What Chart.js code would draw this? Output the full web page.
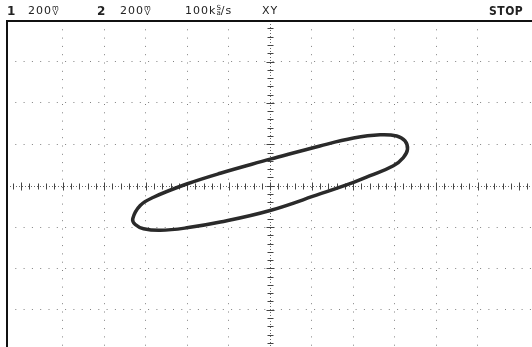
<!DOCTYPE html>
<html>
<head>
<meta charset="utf-8">
<script src="https://cdn.jsdelivr.net/npm/chart.js@4/dist/chart.umd.min.js"></script>
<style>
  html, body { margin: 0; padding: 0; background: #fff; }
  #wrap { position: relative; width: 532px; height: 347px; overflow: hidden; }
  #scope { position: absolute; left: 0; top: 0; }
  .hd { position: absolute; top: 5px; font: 11px "DejaVu Sans", sans-serif; color: #222; white-space: nowrap; line-height: 12px; letter-spacing: 1px; }
  .hd b { font-weight: bold; font-size: 12px; }
  .stk { display: inline-block; font-size: 7px; line-height: 5px; vertical-align: -1px; text-align: center; letter-spacing: 0; }
  .stop { font-family: "Liberation Sans Narrow", "DejaVu Sans Condensed", sans-serif; font-weight: bold; font-size: 12px; letter-spacing: 0.5px; }
</style>
</head>
<body>
<div id="wrap">
  <canvas id="scope" width="532" height="347"></canvas>
  <div class="hd" style="left:7px"><b>1</b></div>
  <div class="hd" style="left:28px">200<span class="stk">m<br>V</span></div>
  <div class="hd" style="left:97px"><b>2</b></div>
  <div class="hd" style="left:120px">200<span class="stk">m<br>V</span></div>
  <div class="hd" style="left:185px">100k<span class="stk">S<br>a</span>/s</div>
  <div class="hd" style="left:262px">XY</div>
  <div class="hd stop" style="left:489px">STOP</div>
</div>
<script>
// XY trace, in divisions (x = CH1, y = CH2)
const traceX = [0, 1.20, 2.01, 2.65, 3.05, 3.25, 3.31, 3.21, 2.97, 2.41, 2.01, 1.20, 0,
                -1.20, -2.01, -2.65, -3.05, -3.25, -3.31, -3.13, -2.81, -2.01, -1.20, 0];
const traceY = [0.64, 0.96, 1.15, 1.23, 1.20, 1.08, 0.88, 0.68, 0.48, 0.24, 0.08, -0.20, -0.60,
                -0.88, -1.02, -1.08, -1.04, -0.94, -0.80, -0.48, -0.28, 0.04, 0.30, 0.64];

// visible screen window in divisions
const xRange = [-6.34, 6.31];
const yRange = [-3.9, 3.98];

const points = traceX.map((x, i) => ({ x: x, y: traceY[i] }));

function gridColor(ctx) {
    const v = ctx.tick ? ctx.tick.value : 0;
    if (v === 0 || Math.abs(v - Math.round(v)) > 1e-6) return 'rgba(0,0,0,0)';
    return '#808080';
}

// centre crosshair with the small 0.2 div marks, plus the frame
const screenDecor = {
    id: 'screenDecor',
    beforeDatasetsDraw(chart) {
        const c = chart.ctx, a = chart.chartArea;
        const xs = chart.scales.x, ys = chart.scales.y;
        const x0 = Math.round(xs.getPixelForValue(0)) + 0.5;
        const y0 = Math.round(ys.getPixelForValue(0)) + 0.5;
        c.save();
        c.strokeStyle = '#666';
        c.lineWidth = 1;
        c.setLineDash([1, 2]);
        c.beginPath();
        c.moveTo(a.left, y0); c.lineTo(a.right, y0);
        c.moveTo(x0, a.top); c.lineTo(x0, a.bottom);
        c.stroke();
        c.setLineDash([]);
        c.strokeStyle = '#444';
        c.beginPath();
        for (let v = Math.ceil(xRange[0] * 5); v <= Math.floor(xRange[1] * 5); v++) {
            const px = Math.round(xs.getPixelForValue(v / 5)) + 0.5;
            const h = v % 5 === 0 ? 4 : 3;
            c.moveTo(px, y0 - h); c.lineTo(px, y0 + h);
        }
        for (let v = Math.ceil(yRange[0] * 5); v <= Math.floor(yRange[1] * 5); v++) {
            const py = Math.round(ys.getPixelForValue(v / 5)) + 0.5;
            const w = v % 5 === 0 ? 4 : 3;
            c.moveTo(x0 - w, py); c.lineTo(x0 + w, py);
        }
        c.stroke();
        // frame: left edge and the line under the header
        c.strokeStyle = '#111';
        c.lineWidth = 2;
        c.beginPath();
        c.moveTo(a.left, a.bottom); c.lineTo(a.left, a.top); c.lineTo(a.right, a.top);
        c.stroke();
        c.restore();
    }
};

new Chart(document.getElementById('scope'), {
    type: 'scatter',
    data: {
        datasets: [{
            data: points,
            showLine: true,
            borderColor: '#2a2a2a',
            borderWidth: 3.5,
            pointRadius: 0,
            tension: 0.4,
            fill: false
        }]
    },
    options: {
        responsive: false,
        animation: false,
        layout: { padding: { left: 7, top: 21, right: 0, bottom: 0 } },
        plugins: { legend: { display: false }, tooltip: { enabled: false } },
        scales: {
            x: {
                type: 'linear', min: xRange[0], max: xRange[1],
                ticks: { display: false, stepSize: 1 },
                border: { display: false, dash: [1, 7.3] },
                grid: { drawTicks: false, color: gridColor, lineWidth: 1 }
            },
            y: {
                type: 'linear', min: yRange[0], max: yRange[1],
                ticks: { display: false, stepSize: 1 },
                border: { display: false, dash: [1, 7.3] },
                grid: { drawTicks: false, color: gridColor, lineWidth: 1 }
            }
        }
    },
    plugins: [screenDecor]
});
</script>
</body>
</html>
